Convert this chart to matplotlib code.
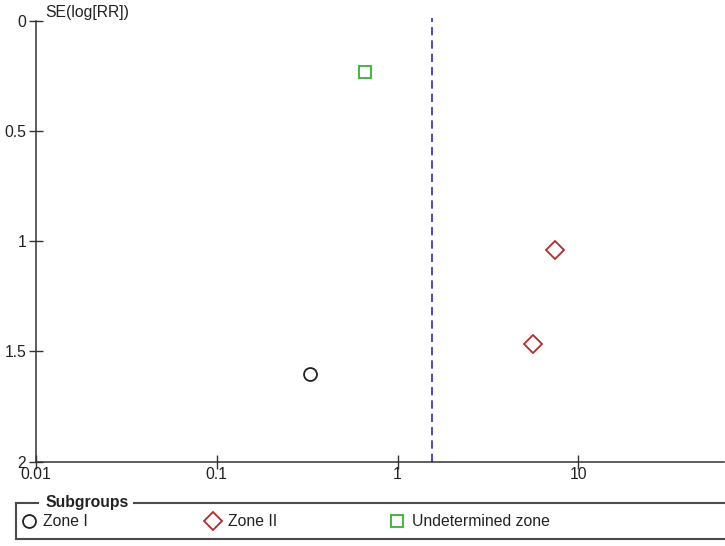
import matplotlib
matplotlib.use("Agg")
import matplotlib.pyplot as plt
from matplotlib.lines import Line2D

plt.rcParams['font.family'] = ['Liberation Sans', 'DejaVu Sans']

# Data (RR, SE(log RR)) per subgroup
zone1_rr = [0.33]
zone1_se = [1.603]
zone2_rr = [7.45, 5.63]
zone2_se = [1.04, 1.467]
undet_rr = [0.662]
undet_se = [0.231]
pooled_rr = 1.56

xticks = [0.01, 0.1, 1, 10]
xticklabels = ["0.01", "0.1", "1", "10"]
yticks = [0, 0.5, 1, 1.5, 2]
yticklabels = ["0", "0.5", "1", "1.5", "2"]

FS = 11.3
W, H = 725, 546
fig = plt.figure(figsize=(W/100, H/100), dpi=100)
ax = fig.add_axes([36/W, 1-461.7/H, (724-36)/W, (461.7-20.7)/H])
ax.set_xscale('log')
ax.set_xlim(0.01, 64)
ax.set_ylim(2, 0)

ax.axvline(pooled_rr, color='#2a2ac8', lw=1.2, ls=(0, (5, 3)), ymax=1.006, clip_on=False)

ax.plot(zone1_rr, zone1_se, 'o', ms=9.3, mfc='none', mec='#222222', mew=1.3, ls='none')
ax.plot(zone2_rr, zone2_se, 'D', ms=9.0, mfc='none', mec='#b52a2a', mew=1.3, ls='none')
ax.plot(undet_rr, undet_se, 's', ms=8.3, mfc='none', mec='#2fb52f', mew=1.3, ls='none')

for s in ['top', 'right']:
    ax.spines[s].set_visible(False)
for s in ['left', 'bottom']:
    ax.spines[s].set_linewidth(1.1)
    ax.spines[s].set_color('#333333')

ax.set_xticks(xticks)
ax.set_xticklabels(xticklabels)
ax.xaxis.set_minor_locator(matplotlib.ticker.NullLocator())
ax.set_yticks(yticks)
ax.set_yticklabels(yticklabels)
ax.tick_params(axis='both', direction='inout', length=10, width=1.0, color='#333333',
               labelsize=FS, labelcolor='#222222')
ax.tick_params(axis='x', pad=-1.5)
ax.tick_params(axis='y', pad=2)

fig.text(45/W, 1-13/H, "SE(log[RR])", fontsize=FS, color='#222222', va='center', ha='left')

# Legend box (drawn in figure pixels)
def fx(x):
    return x / W
def fy(y):
    return 1 - y / H

lc = '#4a4a4a'
LW = 1.5
fig.add_artist(Line2D([fx(16), fx(16)], [fy(503), fy(539)], color=lc, lw=LW))
fig.add_artist(Line2D([fx(16), fx(725)], [fy(539), fy(539)], color=lc, lw=LW))
fig.add_artist(Line2D([fx(16), fx(38)], [fy(503), fy(503)], color=lc, lw=LW))
fig.add_artist(Line2D([fx(134), fx(725)], [fy(503), fy(503)], color=lc, lw=LW))
fig.text(fx(45), fy(502), "Subgroups", fontsize=FS, fontweight='bold', color='#222222',
         va='center', ha='left')

entries = [
    (29, 'o', 9.3, '#222222', "Zone I", 43),
    (213, 'D', 9.0, '#b52a2a', "Zone II", 228),
    (397, 's', 8.3, '#2fb52f', "Undetermined zone", 412),
]
for mx, m, ms, c, label, tx in entries:
    fig.add_artist(Line2D([fx(mx)], [fy(521)], marker=m, ms=ms, mfc='none', mec=c, mew=1.3, ls='none'))
    fig.text(fx(tx), fy(521), label, fontsize=FS, color='#222222', va='center', ha='left')

fig.savefig('out.png', dpi=100)
